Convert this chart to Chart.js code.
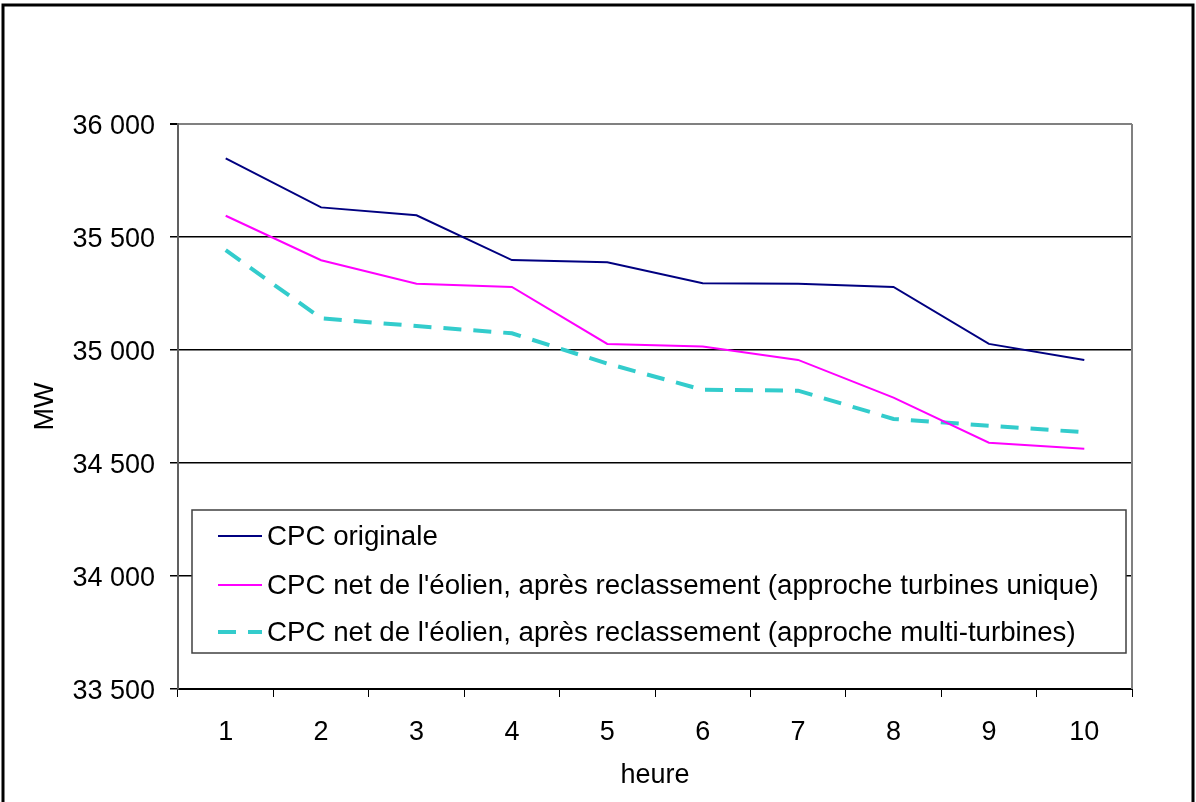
<!DOCTYPE html>
<html>
<head>
<meta charset="utf-8">
<script src="https://cdn.jsdelivr.net/npm/chart.js@4/dist/chart.umd.min.js"></script>
<style>
  html, body { margin: 0; padding: 0; background: #fff; }
  #wrap { width: 1196px; height: 802px; }
</style>
</head>
<body>
<div id="wrap"><canvas id="myChart" width="1196" height="802"></canvas></div>
<script>
// data
var heures = ['1', '2', '3', '4', '5', '6', '7', '8', '9', '10'];
var cpcOriginale = [35848, 35631, 35596, 35398, 35388, 35295, 35293, 35279, 35027, 34956];
var cpcTurbineUnique = [35594, 35397, 35293, 35279, 35027, 35015, 34956, 34789, 34590, 34563];
var cpcMultiTurbines = [35442, 35140, 35106, 35074, 34940, 34824, 34820, 34695, 34665, 34636];
var yTicks = [33500, 34000, 34500, 35000, 35500, 36000];

var FONT = 'Liberation Sans, Arial, sans-serif';

function fmt(v) {
  return String(v).replace(/\B(?=(\d{3})+(?!\d))/g, ' ');
}

// frame, plot border and legend box
var decor = {
  id: 'decor',
  beforeDraw: function(chart) {
    var c = chart.ctx;
    c.save();
    c.fillStyle = '#fff';
    c.fillRect(0, 0, chart.width, chart.height);
    c.restore();
  },
  afterDatasetsDraw: function(chart) {
    var c = chart.ctx, a = chart.chartArea;
    c.save();
    // right border of plot area
    c.strokeStyle = '#808080';
    c.lineWidth = 2;
    c.beginPath();
    c.moveTo(a.right, a.top);
    c.lineTo(a.right, a.bottom);
    c.stroke();

    // legend
    var bx = 192, by = 510, bw = 934, bh = 143;
    c.fillStyle = '#fff';
    c.fillRect(bx, by, bw, bh);
    c.strokeStyle = '#404040';
    c.lineWidth = 1.5;
    c.strokeRect(bx, by, bw, bh);
    var rows = [536, 585, 632];
    c.font = '27.7px ' + FONT;
    c.textBaseline = 'middle';
    c.textAlign = 'left';
    chart.data.datasets.forEach(function(ds, i) {
      c.strokeStyle = ds.borderColor;
      c.lineWidth = ds.borderWidth;
      c.setLineDash(ds.borderDash || []);
      c.beginPath();
      c.moveTo(218, rows[i]);
      c.lineTo(262, rows[i]);
      c.stroke();
      c.setLineDash([]);
      c.fillStyle = '#000';
      c.fillText(ds.label, 267, rows[i] + 1);
    });

    // outer frame
    c.strokeStyle = '#000';
    c.lineWidth = 3;
    c.strokeRect(3, 5, 1190, 850);
    c.restore();
  }
};

var ctx = document.getElementById('myChart').getContext('2d');
var chart = new Chart(ctx, {
  type: 'line',
  data: {
    labels: heures,
    datasets: [{
      label: 'CPC originale',
      data: cpcOriginale,
      borderColor: '#000080',
      borderWidth: 2
    }, {
      label: "CPC net de l'éolien, après reclassement (approche turbines unique)",
      data: cpcTurbineUnique,
      borderColor: '#FF00FF',
      borderWidth: 2
    }, {
      label: "CPC net de l'éolien, après reclassement (approche multi-turbines)",
      data: cpcMultiTurbines,
      borderColor: '#33CCCC',
      borderWidth: 4,
      borderDash: [18, 12]
    }]
  },
  options: {
    responsive: false,
    animation: false,
    layout: { padding: { left: 0, top: 124, right: 64, bottom: 0 } },
    elements: {
      point: { radius: 0 },
      line: { tension: 0, fill: false }
    },
    plugins: {
      legend: { display: false },
      tooltip: { enabled: false }
    },
    scales: {
      x: {
        offset: true,
        afterFit: function(s) { s.height = 113; },
        grid: {
          offset: true,
          drawOnChartArea: false,
          tickLength: 8,
          tickColor: '#000'
        },
        border: { color: '#000', width: 2 },
        ticks: {
          color: '#000',
          padding: 19,
          maxRotation: 0,
          font: { family: FONT, size: 27 }
        },
        title: {
          display: true,
          text: 'heure',
          color: '#000',
          padding: { top: 0, bottom: 10 },
          font: { family: FONT, size: 27 }
        }
      },
      y: {
        min: 33500,
        max: 36000,
        afterFit: function(s) { s.width = 178; },
        afterBuildTicks: function(s) {
          s.ticks = yTicks.map(function(v) { return { value: v }; });
        },
        grid: {
          color: function(c) { return c.tick && c.tick.value === 36000 ? '#808080' : '#000'; },
          lineWidth: function(c) { return c.tick && c.tick.value === 36000 ? 2 : 1.5; },
          tickLength: 8,
          tickColor: '#000'
        },
        border: { color: '#606060', width: 2 },
        ticks: {
          color: '#000',
          padding: 15,
          labelOffset: 3,
          font: { family: FONT, size: 27 },
          callback: function(v) { return fmt(v); }
        },
        title: {
          display: true,
          text: 'MW',
          color: '#000',
          padding: { top: 29, bottom: 0 },
          font: { family: FONT, size: 27 }
        }
      }
    }
  },
  plugins: [decor]
});
</script>
</body>
</html>
